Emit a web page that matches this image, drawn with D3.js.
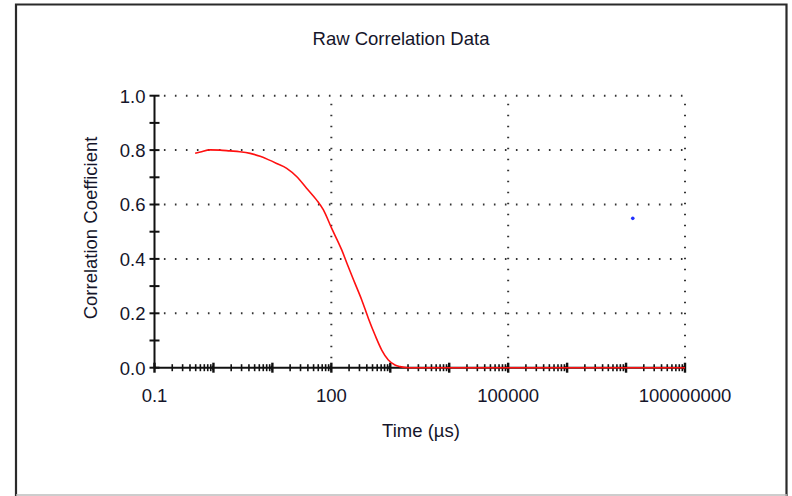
<!DOCTYPE html>
<html><head><meta charset="utf-8">
<script src="https://cdn.jsdelivr.net/npm/d3@7"></script>
<style>html,body{margin:0;padding:0;background:#fff;}svg{display:block;}text{font-family:"Liberation Sans",Arial,sans-serif;fill:#15152a;}</style>
</head><body>
<script>
// Data
const timeUs = [0.49, 0.6, 0.88, 1.3, 1.9, 2.8, 4.2, 6.2, 8.5, 11.8, 17.5, 26, 38, 56, 73, 101, 150, 194, 252, 328, 424, 551, 716, 927, 1200, 1460, 2000, 5000, 20000, 100000, 1000000, 10000000, 100000000];
const corr   = [0.788, 0.793, 0.801, 0.800, 0.797, 0.794, 0.788, 0.777, 0.765, 0.751, 0.733, 0.702, 0.660, 0.617, 0.581, 0.513, 0.433, 0.371, 0.310, 0.249, 0.182, 0.120, 0.065, 0.028, 0.010, 0.004, 0, 0, 0, 0, 0, 0, 0];
const outlierTime = [13000000];
const outlierCorr = [0.549];
const xTickValues = [0.1, 100, 100000, 100000000];
const xTickLabels = ["0.1", "100", "100000", "100000000"];
const yTickValues = [0.0, 0.2, 0.4, 0.6, 0.8, 1.0];
const yMinorValues = [0.1, 0.3, 0.5, 0.7, 0.9];
const title = "Raw Correlation Data";
const xTitle = "Time (\u00b5s)";
const yTitle = "Correlation Coefficient";

const W = 792, H = 496;
const svg = d3.select("body").append("svg").attr("width", W).attr("height", H);

// frame
svg.append("path").attr("d", "M16,496 L16,4.5 L786.5,4.5 L786.5,496")
  .attr("fill", "none").attr("stroke", "#2a2a2a").attr("stroke-width", 2.2);
svg.append("line").attr("x1", 16).attr("x2", 787).attr("y1", 495).attr("y2", 495)
  .attr("stroke", "#bdbdbd").attr("stroke-width", 1.5);

const x = d3.scaleLog().domain([0.1, 1e8]).range([154.5, 685]);
const y = d3.scaleLinear().domain([0, 1]).range([367.7, 95.7]);

// grid (dotted)
const grid = svg.append("g");
yTickValues.filter(v => v > 0).forEach(v => {
  grid.append("line").attr("x1", x(0.1)).attr("x2", x(1e8)).attr("y1", y(v)).attr("y2", y(v))
    .attr("stroke", "#333").attr("stroke-width", 2).attr("stroke-dasharray", "1.6,9.4").attr("stroke-dashoffset", -9.4);
});
xTickValues.filter(v => v > 0.1).forEach(v => {
  grid.append("line").attr("x1", x(v)).attr("x2", x(v)).attr("y1", y(0)).attr("y2", y(1))
    .attr("stroke", "#333").attr("stroke-width", 2).attr("stroke-dasharray", "1.6,9.4").attr("stroke-dashoffset", -9.4);
});

// axes lines
const ax = svg.append("g").attr("stroke", "#111");
ax.append("line").attr("x1", x(0.1)).attr("x2", x(1e8)).attr("y1", y(0)).attr("y2", y(0)).attr("stroke-width", 2);
ax.append("line").attr("x1", x(0.1)).attr("x2", x(0.1)).attr("y1", y(0)).attr("y2", y(1)).attr("stroke-width", 2);

// x ticks: major per decade, minor 2..9
d3.range(-1, 8).forEach(e => {
  const base = Math.pow(10, e);
  for (let m = 2; m <= 9; m++) {
    const v = m * base;
    ax.append("line").attr("x1", x(v)).attr("x2", x(v)).attr("y1", y(0) - 3.5).attr("y2", y(0) + 3.5).attr("stroke-width", 1.6);
  }
});
d3.range(-1, 9).forEach(e => {
  const v = Math.pow(10, e);
  const px = x(v);
  ax.append("line").attr("x1", px).attr("x2", px).attr("y1", y(0) - 5).attr("y2", y(0) + 5).attr("stroke-width", 2.4);
  if (e > -1) ax.append("path").attr("d", `M${px - 3},${y(0)} L${px},${y(0) - 3} L${px},${y(0) + 3} Z`).attr("fill", "#111").attr("stroke", "none");
});

// y ticks
yTickValues.concat(yMinorValues).forEach(v => {
  ax.append("line").attr("x1", x(0.1) - 5).attr("x2", x(0.1) + 5).attr("y1", y(v)).attr("y2", y(v)).attr("stroke-width", 2);
});

// data curve (on top of axis)
const line = d3.line().x((d, i) => x(timeUs[i])).y((d, i) => y(corr[i])).curve(d3.curveMonotoneX);
svg.append("path").datum(corr).attr("d", line).attr("fill", "none")
  .attr("stroke", "#ff1010").attr("stroke-width", 1.6);

// labels
const fs = 18.5;
xTickValues.forEach((v, i) => {
  svg.append("text").attr("x", x(v)).attr("y", 402).attr("text-anchor", "middle")
    .attr("font-size", fs).text(xTickLabels[i]);
});
yTickValues.forEach(v => {
  svg.append("text").attr("x", 145.5).attr("y", y(v) + 6.8).attr("text-anchor", "end")
    .attr("font-size", fs).text(v.toFixed(1));
});
svg.append("text").attr("x", 401).attr("y", 45).attr("text-anchor", "middle").attr("font-size", fs).text(title);
svg.append("text").attr("x", 421).attr("y", 437).attr("text-anchor", "middle").attr("font-size", fs).text(xTitle);
svg.append("text").attr("transform", "translate(97,228) rotate(-90)").attr("text-anchor", "middle").attr("font-size", fs).text(yTitle);

// outlier point
svg.selectAll("circle.o").data(outlierCorr).enter().append("circle")
  .attr("cx", (d, i) => x(outlierTime[i])).attr("cy", d => y(d)).attr("r", 1.8).attr("fill", "#2030ff");
</script>
</body></html>
